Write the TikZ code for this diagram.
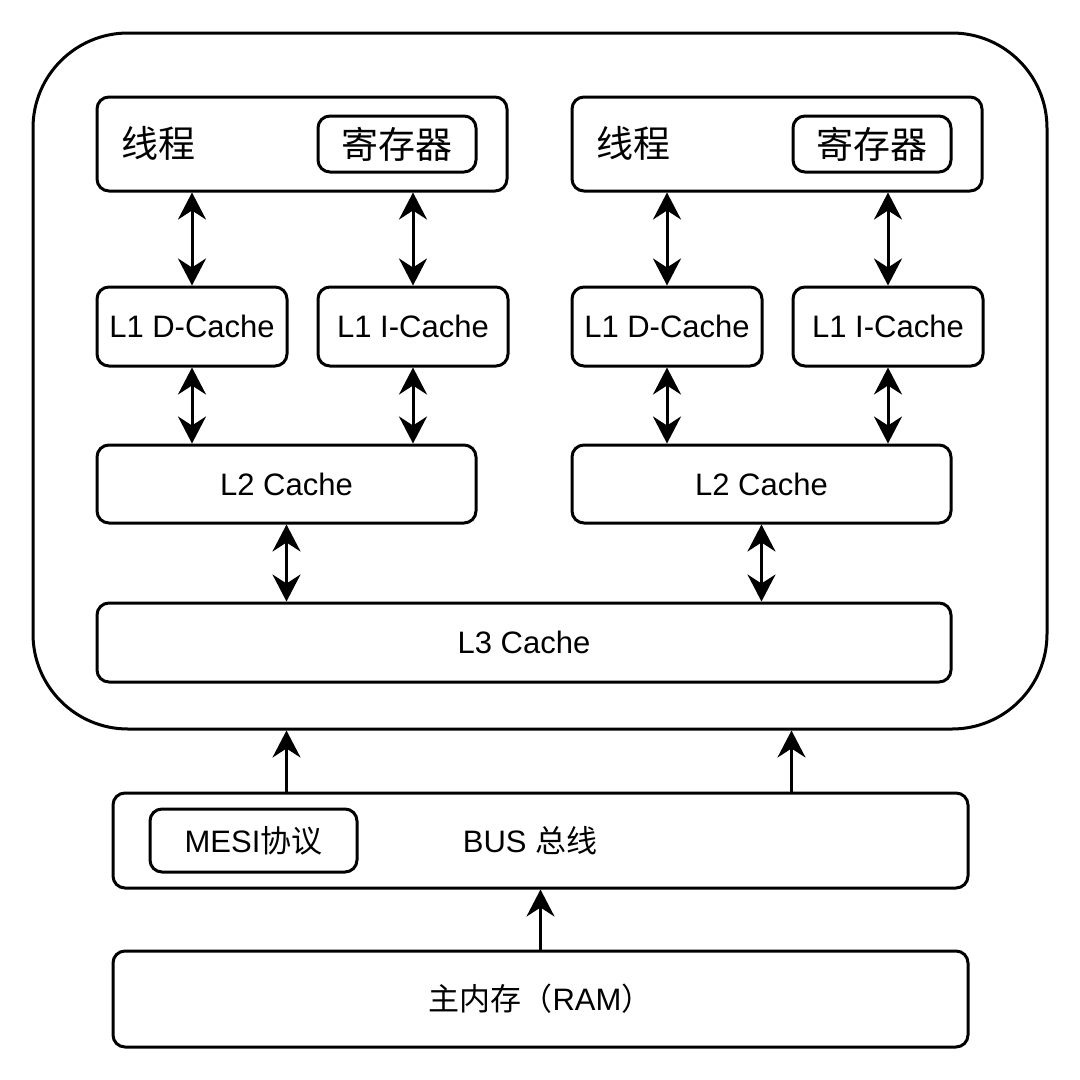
\documentclass[tikz,border=0pt]{standalone}
\usepackage{fontspec}
\setmainfont{Liberation Sans}
\newfontfamily\cjk{Noto Sans CJK SC}
\usetikzlibrary{arrows.meta, calc}

\tikzset{
  box/.style = {draw, line width=3pt, rounded corners=12pt, inner sep=0pt,
                font=\fontsize{31}{37}\selectfont},
  big/.style = {font=\fontsize{37}{44}\selectfont\cjk},
  link/.style = {line width=3pt, {Stealth[length=27pt,width=28pt,inset=9pt]}-{Stealth[length=27pt,width=28pt,inset=9pt]}},
  up/.style = {line width=3pt, -{Stealth[length=27pt,width=28pt,inset=9pt]}}
}

\begin{document}
\begin{tikzpicture}[x=1pt, y=-1pt]
\useasboundingbox (0,0) rectangle (1080,1080);
% outer CPU frame
\node[draw, line width=3pt, rounded corners=95pt, minimum width=1014pt, minimum height=696pt] (cpu) at (540,381) {};
% threads
\node[box, minimum width=410pt, minimum height=94pt] (thdL) at (302,144) {};
\node[box, minimum width=410pt, minimum height=94pt] (thdR) at (777,144) {};
\node[big] (thdLtxt) at (158,143) {线程};
\node[big] (thdRtxt) at (633,143) {线程};
\node[box, big, minimum width=158pt, minimum height=56pt] (regL) at (397,144) {寄存器};
\node[box, big, minimum width=158pt, minimum height=56pt] (regR) at (872,144) {寄存器};
% L1
\node[box, minimum width=190pt, minimum height=79pt] (l1dL) at (192,326.5) {L1 D-Cache};
\node[box, minimum width=190pt, minimum height=79pt] (l1iL) at (413,326.5) {L1 I-Cache};
\node[box, minimum width=190pt, minimum height=79pt] (l1dR) at (667,326.5) {L1 D-Cache};
\node[box, minimum width=190pt, minimum height=79pt] (l1iR) at (888,326.5) {L1 I-Cache};
% L2, L3
\node[box, minimum width=379pt, minimum height=78pt] (l2L) at (286.5,484) {L2 Cache};
\node[box, minimum width=379pt, minimum height=78pt] (l2R) at (761.5,484) {L2 Cache};
\node[box, minimum width=854pt, minimum height=79pt] (l3) at (524,642.5) {L3 Cache};
% bus and memory
\node[box, minimum width=855pt, minimum height=95pt] (bus) at (540.5,840.5) {};
\node[box, minimum width=207pt, minimum height=63pt] (mesi) at (253.5,840.5) {MESI{\cjk 协议}};
\node[font=\fontsize{31}{37}\selectfont] (bustxt) at (530,840.5) {BUS {\cjk 总线}};
\node[box, minimum width=855pt, minimum height=96pt] (ram) at (540.5,999) {{\cjk 主内存（}RAM{\cjk ）}};

\draw[link] (thdL.south -| l1dL) -- (l1dL.north);
\draw[link] (thdL.south -| l1iL) -- (l1iL.north);
\draw[link] (thdR.south -| l1dR) -- (l1dR.north);
\draw[link] (thdR.south -| l1iR) -- (l1iR.north);
\draw[link] (l1dL.south) -- (l2L.north -| l1dL);
\draw[link] (l1iL.south) -- (l2L.north -| l1iL);
\draw[link] (l1dR.south) -- (l2R.north -| l1dR);
\draw[link] (l1iR.south) -- (l2R.north -| l1iR);
\draw[link] (l2L.south) -- (l3.north -| l2L);
\draw[link] (l2R.south) -- (l3.north -| l2R);
\draw[up] (bus.north -| l2L) -- (cpu.south -| l2L);
\draw[up] (bus.north -| l1iR.west) -- (cpu.south -| l1iR.west);
\draw[up] (ram.north) -- (bus.south);
\end{tikzpicture}
\end{document}
